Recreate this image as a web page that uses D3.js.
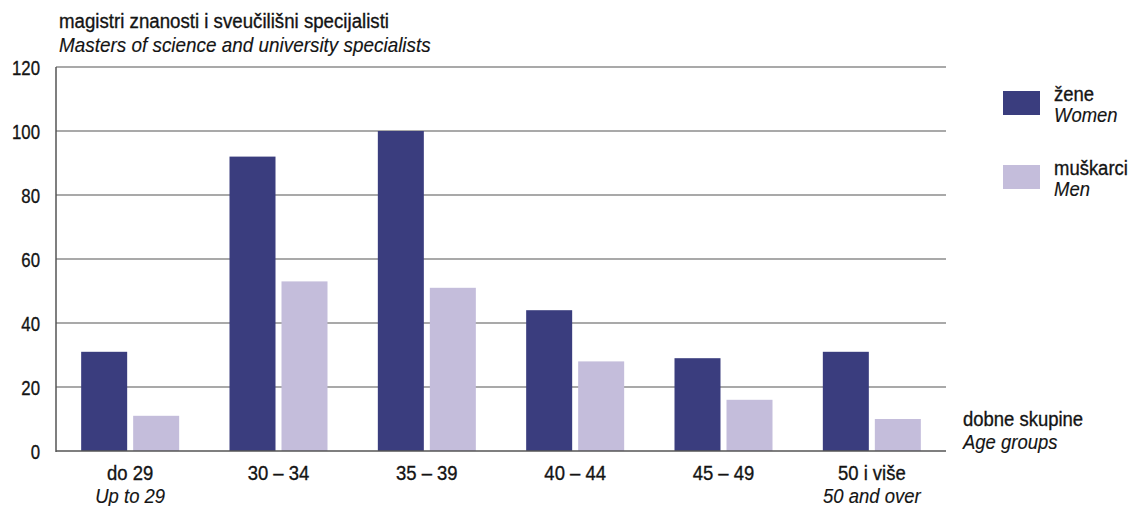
<!DOCTYPE html>
<html><head><meta charset="utf-8">
<script src="https://cdn.jsdelivr.net/npm/d3@7"></script>
<style>
body{margin:0;background:#fff;}
svg text{font-family:"Liberation Sans",Arial,sans-serif;fill:#141414;stroke:#141414;stroke-width:0.35px;}
svg text.it{stroke-width:0.15px;}
</style></head><body>
<svg id="c" width="1132" height="506"></svg>
<script>
const categories = ["do 29","30 – 34","35 – 39","40 – 44","45 – 49","50 i više"];
const categorySub = ["Up to 29","","","","","50 and over"];
const women = [31,92,100,44,29,31];
const men = [11,53,51,28,16,10];
const yTicks = [0,20,40,60,80,100,120];
const seriesNames = ["žene","muškarci"];
const seriesSub = ["Women","Men"];
const colors = ["#3a3d7e","#c4bddb"];

const svg = d3.select("#c");
const m = {left:56, right:946, top:67, bottom:451};
const x = d3.scaleBand().domain(categories).range([m.left,m.right]).paddingInner(0).paddingOuter(0);
const y = d3.scaleLinear().domain([0,120]).range([m.bottom,m.top]);
const barW = 46, gap = 6;

function txt(px, py, s, opt={}){
  const size = opt.size||21, sx = opt.sx||0.9;
  return svg.append("text")
    .attr("transform",`translate(${px},${py}) scale(${sx},1)`)
    .attr("text-anchor",opt.anchor||"start")
    .attr("font-size",size)
    .attr("font-style",opt.italic?"italic":"normal")
    .attr("class",opt.italic?"it":null)
    .text(s);
}

// gridlines
svg.append("g").selectAll("line").data(yTicks.filter(d=>d>0)).join("line")
  .attr("x1",m.left).attr("x2",m.right).attr("y1",d=>y(d)).attr("y2",d=>y(d))
  .attr("stroke","#8c8c8c").attr("stroke-width",1.3);

// bars
const g = svg.append("g");
categories.forEach((c,i)=>{
  const cx = x(c)+x.bandwidth()/2;
  [women[i],men[i]].forEach((v,j)=>{
    const x0 = j===0 ? cx-gap/2-barW : cx+gap/2;
    g.append("rect").attr("x",x0).attr("width",barW)
      .attr("y",y(v)).attr("height",y(0)-y(v)).attr("fill",colors[j]);
  });
});

// axes lines
svg.append("line").attr("x1",m.left).attr("x2",m.left).attr("y1",m.top).attr("y2",m.bottom+1)
  .attr("stroke","#555").attr("stroke-width",1.5);
svg.append("line").attr("x1",m.left).attr("x2",m.right).attr("y1",m.bottom).attr("y2",m.bottom)
  .attr("stroke","#555").attr("stroke-width",1.5);

// y tick labels
yTicks.forEach(d=>txt(40, y(d)+7.5, d, {size:21, sx:0.8, anchor:"end"}));

// x labels
categories.forEach((c,i)=>{
  const cx = x(c)+x.bandwidth()/2;
  txt(cx, 480, c, {size:21, sx:0.88, anchor:"middle"});
  if(categorySub[i]) txt(cx, 503, categorySub[i], {size:21, sx:0.88, anchor:"middle", italic:true});
});

// title
txt(59, 28, "magistri znanosti i sveučilišni specijalisti", {size:21, sx:0.89});
txt(59, 52, "Masters of science and university specialists", {size:21, sx:0.9, italic:true});

// legend
const legY = [91,165];
seriesNames.forEach((n,i)=>{
  svg.append("rect").attr("x",1003).attr("y",legY[i]).attr("width",37).attr("height",24).attr("fill",colors[i]);
  txt(1054, legY[i]+10, n, {size:21, sx:0.88});
  txt(1054, legY[i]+31, seriesSub[i], {size:21, sx:0.88, italic:true});
});

// axis title
txt(963, 426, "dobne skupine", {size:21, sx:0.88});
txt(963, 449, "Age groups", {size:21, sx:0.88, italic:true});
</script>
</body></html>
